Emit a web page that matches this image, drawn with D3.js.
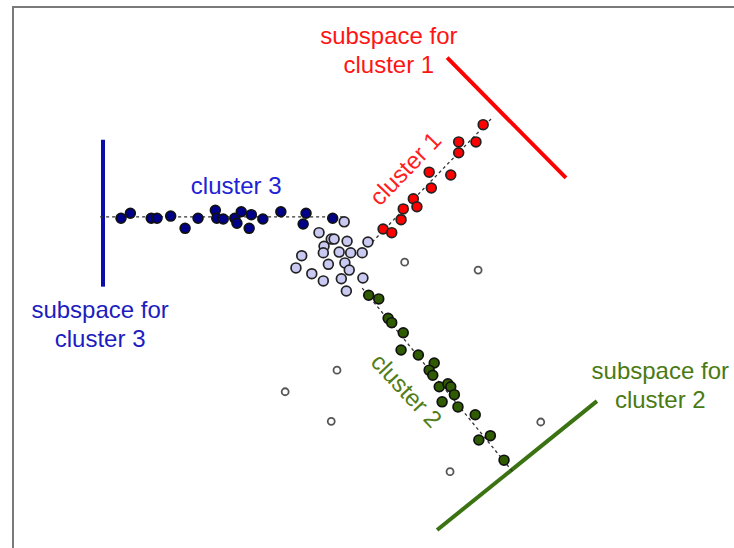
<!DOCTYPE html>
<html>
<head>
<meta charset="utf-8">
<script src="https://cdn.jsdelivr.net/npm/d3@7"></script>
<style>
  html, body { margin: 0; padding: 0; background: #fff; }
  svg { display: block; }
  text { font-family: "Liberation Sans", Arial, sans-serif; }
</style>
</head>
<body>
<svg id="chart" width="734" height="548"></svg>
<script>
// Points of each projected cluster, [x, y] in plot units
const cluster1 = [
  [6.53, 5.88], [6.19, 5.64], [6.43, 5.64], [6.19, 5.49], [5.78, 5.22],
  [6.08, 5.18], [5.81, 5.00], [5.56, 4.85], [5.61, 4.74], [5.42, 4.71],
  [5.39, 4.56], [5.14, 4.43], [5.26, 4.38]
];
const cluster2 = [
  [4.94, 3.51], [5.08, 3.46], [5.21, 3.19], [5.26, 3.13], [5.42, 2.99],
  [5.39, 2.75], [5.63, 2.68], [5.85, 2.57], [5.78, 2.47], [5.83, 2.40],
  [5.92, 2.24], [6.04, 2.28], [6.08, 2.24], [6.13, 2.13], [5.96, 2.03],
  [6.18, 1.96], [6.42, 1.85], [6.63, 1.56], [6.47, 1.50], [6.82, 1.22]
];
const cluster3 = [
  [1.50, 4.58], [1.63, 4.65], [1.92, 4.58], [2.00, 4.58], [2.19, 4.61],
  [2.39, 4.44], [2.57, 4.58], [2.81, 4.69], [2.83, 4.58], [2.92, 4.57],
  [3.08, 4.58], [3.11, 4.51], [3.17, 4.67], [3.31, 4.63], [3.28, 4.44],
  [3.47, 4.57], [3.72, 4.67], [4.07, 4.65], [4.03, 4.50], [4.44, 4.58]
];
// Unassigned points in the dense centre
const centrePoints = [
  [4.60, 4.53], [4.25, 4.38], [4.42, 4.29], [4.46, 4.29], [4.64, 4.26],
  [4.93, 4.25], [4.32, 4.19], [4.31, 4.10], [4.53, 4.11], [4.69, 4.10],
  [4.85, 4.10], [4.01, 4.06], [4.38, 3.94], [4.61, 3.96], [4.67, 3.86],
  [3.93, 3.89], [4.15, 3.81], [4.31, 3.71], [4.56, 3.74], [4.86, 3.75],
  [4.63, 3.57]
];
// Scattered outliers
const outliers = [
  [5.44, 3.97], [6.46, 3.86], [3.78, 2.17], [4.50, 2.47], [4.42, 1.76],
  [7.33, 1.75], [6.07, 1.06]
];
// Principal direction of each cluster (dashed)
const axis1 = [[4.99, 4.25], [6.67, 5.99]];
const axis2 = [[4.85, 3.61], [6.94, 1.06]];
const axis3 = [[1.21, 4.60], [4.61, 4.60]];
// Subspace each cluster is projected onto
const subspace1 = [[6.03, 6.81], [7.68, 5.14]];
const subspace2 = [[5.89, 0.25], [8.11, 2.04]];
const subspace3 = [[1.25, 5.67], [1.25, 3.63]];

const labels = [
  { lines: ["subspace for", "cluster 1"], at: [5.22, 7.0], color: "#ff1414", rot: 0 },
  { lines: ["subspace for", "cluster 2"], at: [8.99, 2.35], color: "#4a7a12", rot: 0 },
  { lines: ["subspace for", "cluster 3"], at: [1.21, 3.20], color: "#1c1cbf", rot: 0 },
  { lines: ["cluster 3"], at: [3.10, 4.91], color: "#2222d4", rot: 0 },
  { lines: ["cluster 1"], at: [5.53, 5.19], color: "#ff1f1f", rot: -46 },
  { lines: ["cluster 2"], at: [5.38, 2.11], color: "#527d18", rot: 47 }
];

const W = 734, H = 548;
const svg = d3.select("#chart");
const x = d3.scaleLinear().domain([0, 10]).range([13, 733]);
const y = d3.scaleLinear().domain([0, 7.5]).range([548, 8]);

// Frame
svg.append("path")
  .attr("d", `M${x(0)},${H + 5}V${y(7.5) - 1}H${W + 5}`)
  .attr("fill", "none")
  .attr("stroke", "#7a7a7a")
  .attr("stroke-width", 2);

const line = d3.line().x(d => x(d[0])).y(d => y(d[1]));

// Subspace lines
[[subspace1, "#ff0000"], [subspace2, "#3b7212"], [subspace3, "#0c0ca8"]].forEach(([seg, c]) => {
  svg.append("path").attr("d", line(seg))
    .attr("stroke", c).attr("stroke-width", 4).attr("fill", "none");
});

// Dashed cluster axes
[axis1, axis2, axis3].forEach(seg => {
  svg.append("path").attr("d", line(seg))
    .attr("stroke", "#333").attr("stroke-width", 1.3)
    .attr("stroke-dasharray", "3,3").attr("fill", "none");
});

function dots(data, fill, r, stroke, sw) {
  svg.append("g").selectAll("circle").data(data).join("circle")
    .attr("cx", d => x(d[0])).attr("cy", d => y(d[1]))
    .attr("r", r).attr("fill", fill)
    .attr("stroke", stroke).attr("stroke-width", sw);
}
dots(outliers, "#ffffff", 3.5, "#555", 1.8);
dots(centrePoints, "#c9c9f2", 4.9, "#222", 1.7);
dots(cluster3, "#000088", 4.9, "#111", 1.7);
dots(cluster1, "#ff0000", 4.9, "#222", 1.7);
dots(cluster2, "#2f5c00", 4.9, "#111", 1.7);

// Labels
labels.forEach(l => {
  const t = svg.append("text")
    .attr("transform", `translate(${x(l.at[0])},${y(l.at[1])}) rotate(${l.rot})`)
    .attr("text-anchor", "middle")
    .attr("font-size", 24)
    .attr("fill", l.color);
  l.lines.forEach((s, i) => {
    t.append("tspan").attr("x", 0).attr("dy", i === 0 ? 0 : 29).text(s);
  });
});
</script>
</body>
</html>
